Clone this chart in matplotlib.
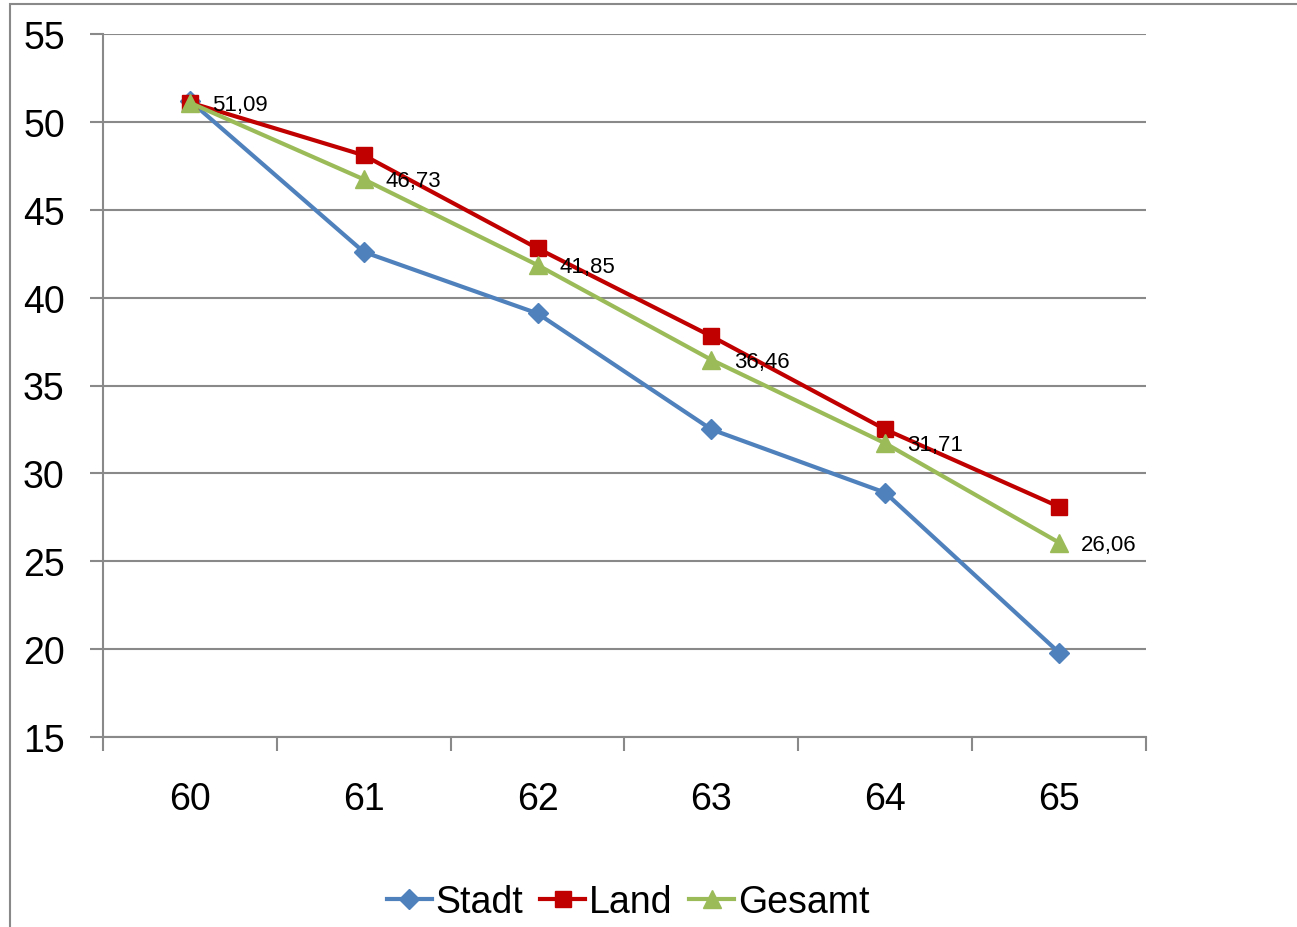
import matplotlib
matplotlib.use("Agg")
import matplotlib.pyplot as plt
from matplotlib.patches import Rectangle
from matplotlib.ticker import FixedLocator

# Werte je Alter
alter = ["60", "61", "62", "63", "64", "65"]
stadt = [51.2, 42.6, 39.1, 32.5, 28.9, 19.8]
land = [51.1, 48.1, 42.8, 37.8, 32.5, 28.1]
gesamt = [51.09, 46.73, 41.85, 36.46, 31.71, 26.06]

plt.rcParams["font.family"] = ["Liberation Sans Narrow", "Liberation Sans", "DejaVu Sans"]

grau = "#898989"
fig = plt.figure(figsize=(12.97, 9.28), dpi=100)
ax = fig.add_axes([103 / 1297, 1 - 738 / 928, (1146 - 103) / 1297, (738 - 35) / 928])

x = list(range(len(alter)))
ax.plot(x, stadt, color="#4F81BD", lw=3, marker="D", ms=10.5, label="Stadt", zorder=3)
ax.plot(x, land, color="#C00000", lw=3, marker="s", ms=12, label="Land", zorder=4)
ax.plot(x, gesamt, color="#9BBB59", lw=3, marker="^", ms=13, label="Gesamt", zorder=5)

# Datenbeschriftungen rechts neben Gesamt
for xi, v in zip(x, gesamt):
    ax.annotate(f"{v:.2f}".replace(".", ","), (xi, v), xytext=(16, -1),
                textcoords="offset points", va="center", ha="left", fontsize=16, zorder=6)

ax.set_ylim(15, 55)
ax.set_yticks(range(15, 56, 5))
ax.set_xlim(-0.5, len(alter) - 0.5)
ax.set_xticks(x)
ax.set_xticklabels(alter)
ax.xaxis.set_minor_locator(FixedLocator([i - 0.5 for i in range(len(alter) + 1)]))

ax.grid(axis="y", color=grau, lw=1.5)
ax.set_axisbelow(True)
for s in ["top", "right"]:
    ax.spines[s].set_visible(False)
for s in ["left", "bottom"]:
    ax.spines[s].set_color(grau)
    ax.spines[s].set_linewidth(1.5)

ax.tick_params(axis="y", length=9.5, width=1.5, color=grau, pad=18, labelsize=27)
ax.tick_params(axis="x", which="major", length=0, pad=32, labelsize=27)
ax.tick_params(axis="x", which="minor", length=10, width=1.5, color=grau)

fig.legend(loc="center", bbox_to_anchor=(628 / 1297, 1 - 903 / 928), ncol=3, frameon=False,
           fontsize=27, handlelength=1.2, handletextpad=0.1, columnspacing=0.45)

# Rahmen um das Diagramm
fig.patches.append(Rectangle((10 / 1297, -0.1), 1.2, 1.1 - 5 / 928, transform=fig.transFigure,
                             fill=False, edgecolor=grau, lw=1.5))

fig.savefig("out.png", dpi=100)
